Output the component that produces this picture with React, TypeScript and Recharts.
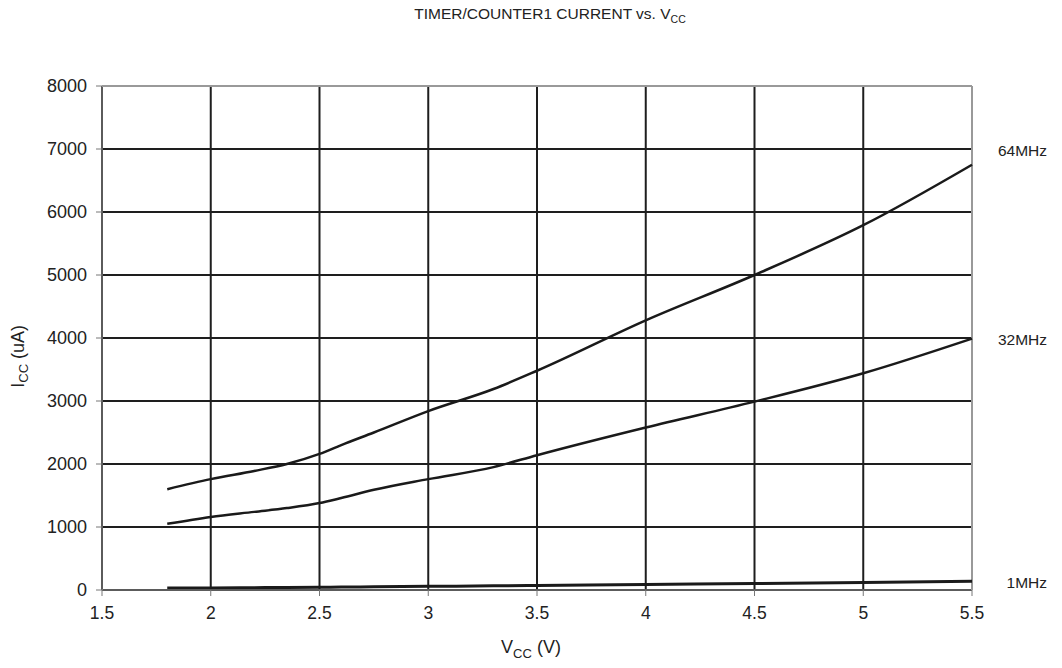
import React from "react";
import { LineChart, Line, XAxis, YAxis, CartesianGrid, ReferenceLine } from "recharts";

const vcc = [1.8, 2.0, 2.2, 2.35, 2.5, 2.6, 2.75, 3.0, 3.3, 3.5, 4.0, 4.5, 5.0, 5.5];
const i64MHz = [1600, 1760, 1890, 2000, 2160, 2300, 2500, 2840, 3190, 3480, 4280, 5000, 5790, 6750];
const i32MHz = [1050, 1160, 1240, 1300, 1380, 1460, 1590, 1760, 1950, 2140, 2580, 2990, 3440, 3990];
const i1MHz = [30, 33, 37, 40, 44, 47, 51, 58, 66, 72, 88, 102, 120, 140];
const xTicks = [1.5, 2, 2.5, 3, 3.5, 4, 4.5, 5, 5.5];
const yTicks = [0, 1000, 2000, 3000, 4000, 5000, 6000, 7000, 8000];
const seriesNames = ["64MHz", "32MHz", "1MHz"];
const labelDy = [-14, 1, 1];

const data = vcc.map((v, i) => ({ v, a: i64MHz[i], b: i32MHz[i], c: i1MHz[i] }));

const FONT = "'Liberation Sans', Arial, sans-serif";

const makeLabel = (name: string, dy: number) => (props: any) => {
  const { x, y, index } = props;
  if (index !== vcc.length - 1) return null;
  return (
    <text x={x + 75} y={y + dy} textAnchor="end" dominantBaseline="central" fontSize={15.5} fill="#222" fontFamily={FONT}>
      {name}
    </text>
  );
};

export default function App() {
  return (
    <div style={{ position: "absolute", left: 0, top: 0, width: 1062, height: 668, background: "#fff", fontFamily: FONT, color: "#222" }}>
      <div style={{ position: "absolute", left: 350, width: 400, top: 5, textAlign: "center", fontSize: 15.5, lineHeight: "18px" }}>
        TIMER/COUNTER1 CURRENT vs. V<sub style={{ fontSize: 10.5 }}>CC</sub>
      </div>
      <div style={{ position: "absolute", left: 431, width: 200, top: 636, textAlign: "center", fontSize: 18, lineHeight: "22px" }}>
        V<sub style={{ fontSize: 13 }}>CC</sub> (V)
      </div>
      <div style={{ position: "absolute", left: -79, width: 200, top: 342, textAlign: "center", fontSize: 18, lineHeight: "22px", transform: "rotate(-90deg)" }}>
        I<sub style={{ fontSize: 13 }}>CC</sub> (uA)
      </div>
      <LineChart width={1062} height={668} data={data} margin={{ top: 86, right: 90, bottom: 0, left: 0 }}>
        <CartesianGrid stroke="#1e1e1e" strokeWidth={2} horizontalValues={yTicks} verticalValues={xTicks} />
        <XAxis
          dataKey="v"
          type="number"
          domain={[1.5, 5.5]}
          ticks={xTicks}
          height={78}
          tickSize={6}
          tickMargin={11}
          stroke="#999"
          tickLine={{ stroke: "#777" }}
          tick={{ fontSize: 17.5, fill: "#222", fontFamily: FONT }}
          interval={0}
        />
        <YAxis
          type="number"
          domain={[0, 8000]}
          ticks={yTicks}
          width={102}
          tickSize={6}
          tickMargin={9}
          stroke="#999"
          tickLine={{ stroke: "#777" }}
          tick={{ fontSize: 18, fill: "#222", fontFamily: FONT }}
          interval={0}
        />
        <ReferenceLine x={5.5} stroke="#999" strokeWidth={2} />
        <ReferenceLine y={8000} stroke="#999" strokeWidth={2} />
        <Line type="monotone" dataKey="a" stroke="#1a1a1a" strokeWidth={2.5} dot={false} isAnimationActive={false} label={makeLabel(seriesNames[0], labelDy[0])} />
        <Line type="monotone" dataKey="b" stroke="#1a1a1a" strokeWidth={2.5} dot={false} isAnimationActive={false} label={makeLabel(seriesNames[1], labelDy[1])} />
        <Line type="monotone" dataKey="c" stroke="#1a1a1a" strokeWidth={3} dot={false} isAnimationActive={false} label={makeLabel(seriesNames[2], labelDy[2])} />
      </LineChart>
    </div>
  );
}
